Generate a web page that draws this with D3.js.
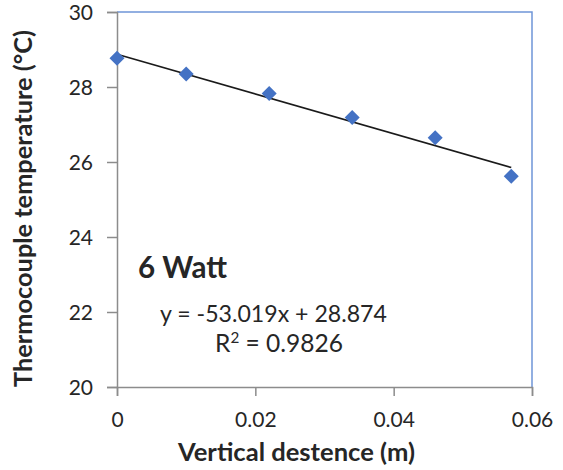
<!DOCTYPE html>
<html>
<head>
<meta charset="utf-8">
<script src="https://cdn.jsdelivr.net/npm/d3@7"></script>
<style>
  html, body { margin: 0; padding: 0; background: #fff; }
  svg text { font-family: Lato, "Open Sans", sans-serif; fill: #262626; }
</style>
</head>
<body>
<svg id="chart" width="563" height="470"></svg>
<script>
// Measured temperature along the vertical distance, 6 W heating
const distance = [0, 0.01, 0.022, 0.034, 0.046, 0.057];
const temperature = [28.77, 28.35, 27.83, 27.19, 26.65, 25.62];
const xTicks = [0, 0.02, 0.04, 0.06];
const yTicks = [20, 22, 24, 26, 28, 30];
const slope = -53.019;
const intercept = 28.874;
const rSquared = "0.9826";

const svg = d3.select("#chart");
const margin = { left: 117, right: 31, top: 12, bottom: 83 };
const W = 563, H = 470;

const x = d3.scaleLinear().domain([0, 0.06]).range([margin.left, W - margin.right]);
const y = d3.scaleLinear().domain([20, 30]).range([H - margin.bottom, margin.top]);

// scale a text element's font so that it spans the given width
function fit(sel, width) {
  const s = +sel.attr("font-size");
  const w = sel.node().getComputedTextLength();
  sel.attr("font-size", (s * width / w).toFixed(2));
  return sel;
}

// plot frame: top and right edges
svg.append("path")
  .attr("d", `M${x(0)},${y(30)}H${x(0.06)}V${y(20)}`)
  .attr("fill", "none").attr("stroke", "#6f95d8").attr("stroke-width", 1.5);

// axes
const xAxis = svg.append("g")
  .attr("transform", `translate(0,${y(20)})`)
  .call(d3.axisBottom(x).tickValues(xTicks).tickSize(9).tickPadding(22)
        .tickFormat(d => d === 0 ? "0" : d3.format(".2f")(d)));
const yAxis = svg.append("g")
  .attr("transform", `translate(${x(0)},0)`)
  .call(d3.axisLeft(y).tickValues(yTicks).tickSize(10).tickPadding(14));

[xAxis, yAxis].forEach(g => {
  g.select(".domain").attr("stroke", "#8c8c8c").attr("stroke-width", 1.5);
  g.selectAll(".tick line").attr("stroke", "#8c8c8c").attr("stroke-width", 1.5);
  g.selectAll(".tick text").attr("font-size", 21).attr("fill", "#262626")
    .style("font-family", "Lato, 'Open Sans', sans-serif");
});
yAxis.selectAll(".tick text").attr("dy", "0.35em");
xAxis.selectAll(".tick text").attr("dy", "0.45em");

// linear trendline over the measured range
const xMin = d3.min(distance), xMax = d3.max(distance);
svg.append("line")
  .attr("x1", x(xMin)).attr("y1", y(intercept + slope * xMin))
  .attr("x2", x(xMax)).attr("y2", y(intercept + slope * xMax))
  .attr("stroke", "#1a1a1a").attr("stroke-width", 1.6);

// data markers
svg.append("g").selectAll("path")
  .data(distance.map((d, i) => [d, temperature[i]]))
  .join("path")
  .attr("transform", d => `translate(${x(d[0])},${y(d[1])})`)
  .attr("d", "M0,-7.5L7.5,0L0,7.5L-7.5,0Z")
  .attr("fill", "#4472c4");

// annotations
fit(svg.append("text").attr("x", 138).attr("y", 278)
  .attr("font-size", 20).attr("font-weight", 700).text("6 Watt"), 89);
fit(svg.append("text").attr("x", 160).attr("y", 322)
  .attr("font-size", 18).text(`y = ${slope}x + ${intercept}`), 227);
const r2 = svg.append("text").attr("x", 215).attr("y", 352).attr("font-size", 19);
r2.append("tspan").text("R");
r2.append("tspan").attr("font-size", "0.62em").attr("dy", "-0.62em").text("2");
r2.append("tspan").attr("dy", "0.384em").text(` = ${rSquared}`);
fit(r2, 128);

// axis titles
fit(svg.append("text").attr("x", 178).attr("y", 461)
  .attr("font-size", 20).attr("font-weight", 700)
  .text("Vertical destence (m)"), 237);
fit(svg.append("text").attr("transform", "translate(32,387) rotate(-90)")
  .attr("font-size", 20).attr("font-weight", 700)
  .text("Thermocouple temperature (°C)"), 357);
</script>
</body>
</html>
